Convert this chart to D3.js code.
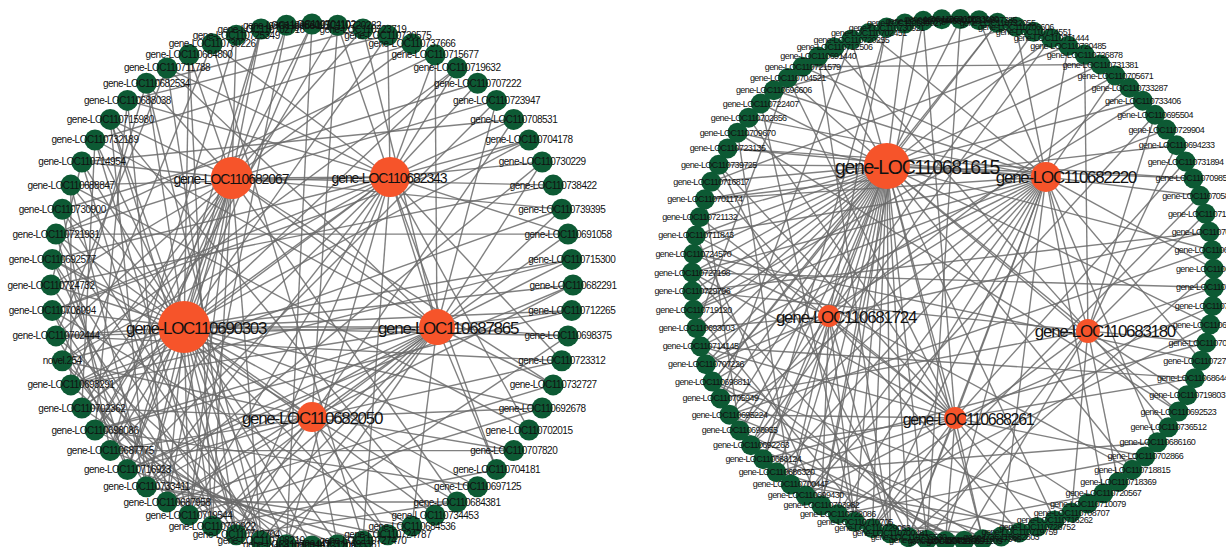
<!DOCTYPE html>
<html>
<head>
<meta charset="utf-8">
<script src="https://cdn.jsdelivr.net/npm/d3@7/dist/d3.min.js"></script>
<style>
  body { margin: 0; background: #fff; }
  svg { display: block; }
  text { font-family: "Liberation Sans", Arial, sans-serif; fill: #111; }
</style>
</head>
<body>
<svg id="chart" width="1226" height="547"></svg>
<script>
// ---------- Network 1 ----------
// outer ring genes, clockwise from 12 o'clock
const leftRing = [
  "gene-LOC110704102", "gene-LOC110720282", "gene-LOC110723719", "gene-LOC110730575",
  "gene-LOC110737666", "gene-LOC110715677", "gene-LOC110719632", "gene-LOC110707222",
  "gene-LOC110723947", "gene-LOC110708531", "gene-LOC110704178", "gene-LOC110730229",
  "gene-LOC110738422", "gene-LOC110739395", "gene-LOC110691058", "gene-LOC110715300",
  "gene-LOC110682291", "gene-LOC110712265", "gene-LOC110698375", "gene-LOC110723312",
  "gene-LOC110732727", "gene-LOC110692678", "gene-LOC110702015", "gene-LOC110707820",
  "gene-LOC110704181", "gene-LOC110697125", "gene-LOC110684381", "gene-LOC110734453",
  "gene-LOC110684536", "gene-LOC110724787", "gene-LOC110727470", "gene-LOC110695361",
  "gene-LOC110731208", "gene-LOC110729442", "gene-LOC110708210", "gene-LOC110712704",
  "gene-LOC110700922", "gene-LOC110719544", "gene-LOC110687958", "gene-LOC110733411",
  "gene-LOC110716923", "gene-LOC110687775", "gene-LOC110698086", "gene-LOC110702362",
  "gene-LOC110698291", "novel.254", "gene-LOC110702444", "gene-LOC110708094",
  "gene-LOC110724732", "gene-LOC110692577", "gene-LOC110721931", "gene-LOC110730900",
  "gene-LOC110688847", "gene-LOC110714954", "gene-LOC110732189", "gene-LOC110715980",
  "gene-LOC110688038", "gene-LOC110682534", "gene-LOC110711788", "gene-LOC110684800",
  "gene-LOC110730226", "gene-LOC110725349", "gene-LOC110702716", "gene-LOC110686095"
];
const leftHubs = [
  "gene-LOC110682067", "gene-LOC110682343", "gene-LOC110690303",
  "gene-LOC110687865", "gene-LOC110682050"
];
// ring partners of each hub (indices into leftRing)
const leftHubLinks = [
  [0, 2, 4, 8, 12, 13, 20, 26, 34, 36, 37, 38, 39, 40, 41, 42, 43, 44, 46, 48, 50, 53, 55, 57, 59, 61, 62, 63],
  [1, 3, 5, 6, 7, 9, 10, 11, 14, 19, 22, 24, 30, 33, 35, 37, 39, 41, 43, 45, 47, 49, 52, 56, 58, 60],
  [0, 3, 6, 10, 15, 16, 17, 18, 21, 23, 25, 27, 29, 31, 32, 33, 34, 35, 36, 37, 38, 39, 40, 41, 42, 43,
   44, 45, 46, 47, 48, 49, 50, 51, 52, 53, 54, 55, 57, 59, 62],
  [2, 5, 8, 11, 13, 15, 17, 18, 20, 24, 28, 33, 34, 35, 36, 37, 38, 39, 40, 42, 44, 46, 54, 58],
  [1, 9, 14, 16, 19, 21, 23, 26, 29, 31, 35, 36, 38, 40, 41, 43, 45, 49]
];
const leftHubPairs = [[0, 1], [0, 2], [0, 3], [1, 2], [1, 3], [2, 3], [2, 4]];
const leftRingLinks = [
  [12, 48], [13, 44], [14, 50], [16, 40], [17, 42], [19, 46], [20, 38], [22, 52], [24, 36], [25, 42],
  [27, 55], [28, 47], [30, 60], [3, 56], [4, 54], [5, 50], [6, 45], [7, 51], [8, 40], [9, 53],
  [10, 47], [11, 39], [1, 42], [2, 57], [0, 33], [63, 37], [61, 41], [60, 44], [59, 36], [58, 46],
  [57, 34], [56, 38], [55, 35], [54, 43], [53, 37], [52, 39], [51, 41], [50, 34], [49, 38], [48, 36],
  [47, 40], [46, 33], [45, 37], [44, 35], [18, 34], [21, 37], [23, 41], [26, 35], [29, 39], [15, 44],
  [62, 40], [58, 35], [56, 42], [55, 39], [54, 36], [52, 44], [51, 34], [50, 40], [49, 35], [47, 37],
  [46, 39], [45, 34], [43, 33], [42, 32], [41, 31], [40, 30], [39, 28], [38, 26], [57, 45], [53, 48]
];

// ---------- Network 2 ----------
const rightRing = [
  "gene-LOC110683690", "gene-LOC110697385", "gene-LOC110722055", "gene-LOC110706606",
  "gene-LOC110714551", "gene-LOC110711444", "gene-LOC110720485", "gene-LOC110726878",
  "gene-LOC110731381", "gene-LOC110705671", "gene-LOC110733287", "gene-LOC110733406",
  "gene-LOC110695504", "gene-LOC110729904", "gene-LOC110694233", "gene-LOC110731894",
  "gene-LOC110709856", "gene-LOC110705837", "gene-LOC110711926", "gene-LOC110707341",
  "gene-LOC110688572", "gene-LOC110681903", "gene-LOC110718246", "gene-LOC110707415",
  "gene-LOC110687112", "gene-LOC110706930", "gene-LOC110727275", "gene-LOC110686442",
  "gene-LOC110719803", "gene-LOC110692523", "gene-LOC110736512", "gene-LOC110686160",
  "gene-LOC110702866", "gene-LOC110718815", "gene-LOC110718369", "gene-LOC110720567",
  "gene-LOC110710079", "gene-LOC110708707", "gene-LOC110716262", "gene-LOC110728752",
  "gene-LOC110719759", "gene-LOC110682803", "gene-LOC110717346", "gene-LOC110691205",
  "gene-LOC110713689", "gene-LOC110725018", "gene-LOC110735530", "gene-LOC110700481",
  "gene-LOC110729063", "gene-LOC110710705", "gene-LOC110722086", "gene-LOC110703982",
  "gene-LOC110699430", "gene-LOC110700447", "gene-LOC110686320", "gene-LOC110688124",
  "gene-LOC110692263", "gene-LOC110696055", "gene-LOC110695224", "gene-LOC110705949",
  "gene-LOC110698811", "gene-LOC110707226", "gene-LOC110714145", "gene-LOC110693003",
  "gene-LOC110719120", "gene-LOC110729796", "gene-LOC110727198", "gene-LOC110724570",
  "gene-LOC110711843", "gene-LOC110721132", "gene-LOC110701174", "gene-LOC110716817",
  "gene-LOC110739725", "gene-LOC110723135", "gene-LOC110709670", "gene-LOC110702856",
  "gene-LOC110722407", "gene-LOC110696606", "gene-LOC110704521", "gene-LOC110721579",
  "gene-LOC110691440", "gene-LOC110712506", "gene-LOC110720255", "gene-LOC110702451",
  "gene-LOC110730921", "gene-LOC110689027", "gene-LOC110704463", "gene-LOC110696110"
];
const rightHubs = [
  "gene-LOC110681615", "gene-LOC110682220", "gene-LOC110681724",
  "gene-LOC110683180", "gene-LOC110688261"
];
const rightHubLinks = [
  [0, 2, 5, 8, 11, 16, 20, 24, 29, 33, 38, 42, 45, 46, 47, 48, 49, 50, 51, 52, 53, 54, 55, 56, 57, 58,
   59, 60, 61, 62, 63, 64, 65, 66, 67, 68, 69, 70, 71, 72, 74, 76, 78, 80, 82, 85],
  [1, 3, 6, 9, 13, 17, 21, 26, 31, 35, 41, 44, 46, 48, 50, 52, 54, 56, 58, 60, 62, 64, 66, 68, 70, 73,
   75, 77, 79, 83],
  [4, 10, 19, 40, 47, 49, 51, 53, 55, 57, 61, 63, 67, 71, 84],
  [7, 12, 14, 18, 22, 25, 28, 30, 34, 37, 43, 45, 50, 59, 65, 81],
  [15, 23, 27, 32, 36, 39, 42, 44, 46, 48, 52, 54, 56, 58, 62, 66, 69, 72, 75, 78, 86]
];
const rightHubPairs = [[0, 1], [0, 2], [0, 3], [0, 4], [1, 3], [1, 4], [2, 4]];
const rightRingLinks = [
  [2, 60], [5, 56], [9, 64], [12, 52], [14, 70], [17, 48], [20, 58], [22, 66], [24, 50], [27, 62],
  [29, 74], [31, 54], [33, 68], [35, 47], [37, 60], [39, 53], [41, 49], [43, 57], [0, 45], [86, 51],
  [84, 55], [82, 59], [80, 47], [78, 63], [76, 49], [74, 53], [72, 46], [70, 57], [68, 51], [66, 45],
  [64, 48], [62, 44], [60, 42], [58, 40], [56, 43], [54, 41], [11, 61], [19, 65], [26, 67], [32, 50],
  [6, 71], [16, 73], [3, 77], [8, 79], [21, 46], [25, 55]
];

// ---------- layout & style ----------
const GREEN = "#0d5a34";
const ORANGE = "#f6542a";

const panels = [
  {
    ring: leftRing, hubs: leftHubs, hubLinks: leftHubLinks, hubPairs: leftHubPairs, ringLinks: leftRingLinks,
    cx: 312, cy: 285, r: 261, offset: 0, nodeR: 10.5, ringFont: 10, ringSpacing: -0.5,
    // hub centres in ring-radius units
    hubPos: [[-0.307, -0.41], [0.299, -0.414], [-0.49, 0.161], [0.479, 0.161], [0.0, 0.506]],
    hubR: [21, 20, 26, 18, 15],
    hubFont: [14, 14, 17, 17, 17],
    labelDx: [-1, -1, 12, 11, 0]
  },
  {
    ring: rightRing, hubs: rightHubs, hubLinks: rightHubLinks, hubPairs: rightHubPairs, ringLinks: rightRingLinks,
    cx: 953, cy: 280, r: 261, offset: 0.4, nodeR: 10, ringFont: 9, ringSpacing: -0.6,
    hubPos: [[-0.253, -0.437], [0.356, -0.395], [-0.475, 0.138], [0.517, 0.195], [0.008, 0.529]],
    hubR: [23, 15, 11, 12, 11],
    hubFont: [19.5, 17, 17, 17, 16],
    labelDx: [30, 20, 17, 17, 13]
  }
];

const svg = d3.select("#chart");

panels.forEach(p => {
  const n = p.ring.length;
  const angle = d3.scaleLinear().domain([0, n]).range([0, 2 * Math.PI]);
  const x = d3.scaleLinear().domain([-1, 1]).range([p.cx - p.r, p.cx + p.r]);
  const y = d3.scaleLinear().domain([-1, 1]).range([p.cy - p.r, p.cy + p.r]);

  const ringNodes = p.ring.map((name, i) => {
    const a = angle(i + p.offset);
    return { name, x: x(Math.sin(a)), y: y(-Math.cos(a)) };
  });
  const hubNodes = p.hubs.map((name, i) => ({
    name, x: x(p.hubPos[i][0]), y: y(p.hubPos[i][1]),
    r: p.hubR[i], font: p.hubFont[i], dx: p.labelDx[i]
  }));

  const links = [];
  p.hubLinks.forEach((arr, h) => arr.forEach(t => links.push([hubNodes[h], ringNodes[t]])));
  p.hubPairs.forEach(([a, b]) => links.push([hubNodes[a], hubNodes[b]]));
  p.ringLinks.forEach(([a, b]) => links.push([ringNodes[a], ringNodes[b]]));

  const g = svg.append("g");

  g.append("g")
    .selectAll("line").data(links).join("line")
    .attr("x1", d => d[0].x).attr("y1", d => d[0].y)
    .attr("x2", d => d[1].x).attr("y2", d => d[1].y)
    .attr("stroke", "#6a6a6a")
    .attr("stroke-opacity", 0.85)
    .attr("stroke-width", 1.4);

  g.append("g")
    .selectAll("circle").data(ringNodes).join("circle")
    .attr("cx", d => d.x).attr("cy", d => d.y).attr("r", p.nodeR)
    .attr("fill", GREEN);

  g.append("g")
    .selectAll("circle").data(hubNodes).join("circle")
    .attr("cx", d => d.x).attr("cy", d => d.y).attr("r", d => d.r)
    .attr("fill", ORANGE);

  g.append("g")
    .selectAll("text").data(ringNodes).join("text")
    .attr("x", d => d.x).attr("y", d => d.y)
    .attr("text-anchor", "middle")
    .attr("dominant-baseline", "central")
    .attr("font-size", p.ringFont)
    .attr("letter-spacing", p.ringSpacing)
    .text(d => d.name);

  g.append("g")
    .selectAll("text").data(hubNodes).join("text")
    .attr("x", d => d.x + d.dx).attr("y", d => d.y + 1)
    .attr("text-anchor", "middle")
    .attr("dominant-baseline", "central")
    .attr("font-size", d => d.font)
    .attr("letter-spacing", d => d.font < 15 ? -1.1 : -1.3)
    .text(d => d.name);
});
</script>
</body>
</html>
